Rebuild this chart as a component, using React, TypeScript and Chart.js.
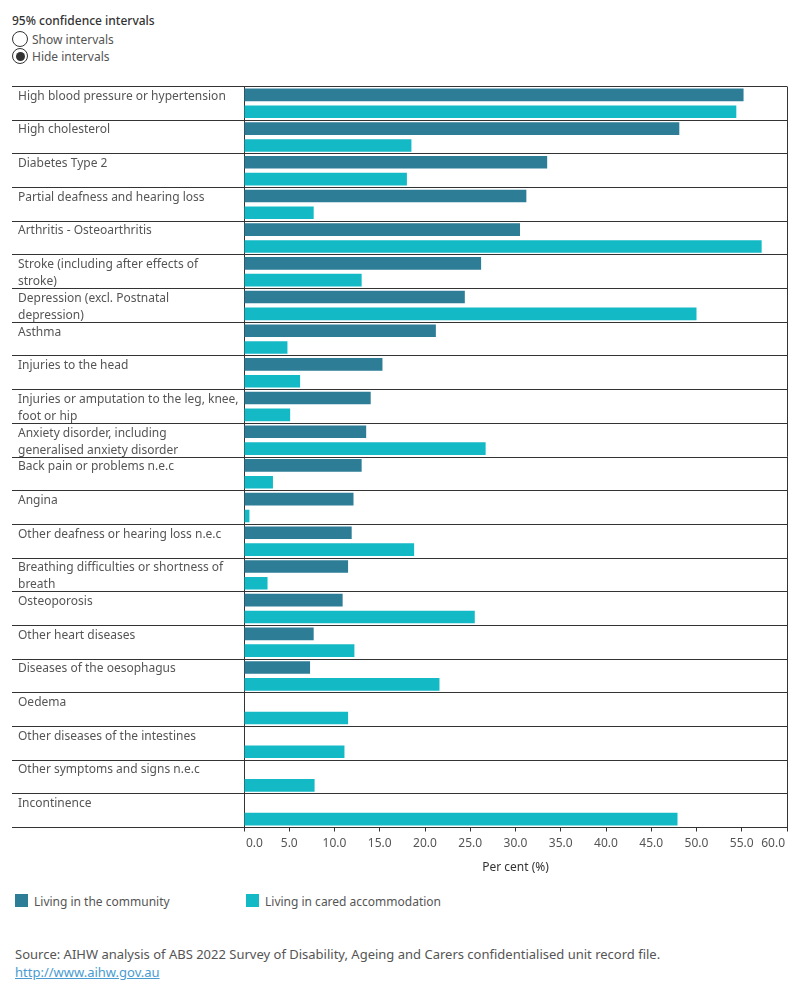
import React, { useEffect, useRef } from 'react';
import { Chart, registerables } from 'chart.js';

Chart.register(...registerables);

const FONT = '"Noto Sans", "Open Sans", sans-serif';

const categoryLabels: string[][] = [
  ['High blood pressure or hypertension', ''],
  ['High cholesterol', ''],
  ['Diabetes Type 2', ''],
  ['Partial deafness and hearing loss', ''],
  ['Arthritis - Osteoarthritis', ''],
  ['Stroke (including after effects of', 'stroke)'],
  ['Depression (excl. Postnatal', 'depression)'],
  ['Asthma', ''],
  ['Injuries to the head', ''],
  ['Injuries or amputation to the leg, knee,', 'foot or hip'],
  ['Anxiety disorder, including', 'generalised anxiety disorder'],
  ['Back pain or problems n.e.c', ''],
  ['Angina', ''],
  ['Other deafness or hearing loss n.e.c', ''],
  ['Breathing difficulties or shortness of', 'breath'],
  ['Osteoporosis', ''],
  ['Other heart diseases', ''],
  ['Diseases of the oesophagus', ''],
  ['Oedema', ''],
  ['Other diseases of the intestines', ''],
  ['Other symptoms and signs n.e.c', ''],
  ['Incontinence', ''],
];

const communityValues: (number | null)[] = [
  55.2, 48.1, 33.5, 31.2, 30.5, 26.2, 24.4, 21.2, 15.3, 14.0, 13.5,
  13.0, 12.1, 11.9, 11.5, 10.9, 7.7, 7.3, null, null, null, null,
];

const caredValues: (number | null)[] = [
  54.4, 18.5, 18.0, 7.7, 57.2, 13.0, 50.0, 4.8, 6.2, 5.1, 26.7,
  3.2, 0.6, 18.8, 2.6, 25.5, 12.2, 21.6, 11.5, 11.1, 7.8, 47.9,
];

const seriesNames = ['Living in the community', 'Living in cared accommodation'];
const seriesColors = ['#2D7D97', '#14B9C6'];

const xMin = 0;
const xMax = 60;
const xStep = 5;
const xTitle = 'Per cent (%)';

const edgeLabelPlugin = {
  id: 'edgeLabels',
  beforeDraw(chart: any) {
    const s = chart.scales.x;
    if (!s) return;
    const items = s.getLabelItems();
    if (!items || !items.length) return;
    const first = items[0];
    const last = items[items.length - 1];
    if (!first._adj) {
      first.options.textAlign = 'left';
      first.options.translation[0] += 2;
      first._adj = true;
    }
    if (!last._adj) {
      last.options.textAlign = 'right';
      last.options.translation[0] -= 2;
      last._adj = true;
    }
  },
};

function ChartCanvas() {
  const ref = useRef<HTMLCanvasElement | null>(null);
  useEffect(() => {
    if (!ref.current) return;
    const chart = new Chart(ref.current, {
      type: 'bar',
      data: {
        labels: categoryLabels as any,
        datasets: [
          {
            label: seriesNames[0],
            data: communityValues,
            backgroundColor: seriesColors[0],
            borderWidth: 0,
            categoryPercentage: 1.0,
            barPercentage: 0.75,
          },
          {
            label: seriesNames[1],
            data: caredValues,
            backgroundColor: seriesColors[1],
            borderWidth: 0,
            categoryPercentage: 1.0,
            barPercentage: 0.75,
          },
        ],
      },
      options: {
        indexAxis: 'y',
        animation: false,
        responsive: true,
        maintainAspectRatio: false,
        layout: { padding: { top: 6.5, left: 10, right: 5, bottom: 0 } },
        plugins: {
          legend: { display: false },
          tooltip: { enabled: false },
        },
        scales: {
          x: {
            type: 'linear',
            min: xMin,
            max: xMax,
            ticks: {
              stepSize: xStep,
              color: '#555',
              font: { family: FONT, size: 12 },
              padding: 5,
              maxRotation: 0,
              autoSkip: false,
              callback: (v: any) => Number(v).toFixed(1),
            },
            grid: {
              color: (ctx: any) =>
                ctx.tick && ctx.tick.value === xMax ? '#333' : 'rgba(0,0,0,0)',
              tickColor: '#333',
              tickLength: 4,
              lineWidth: 1,
            },
            border: { display: true, color: '#333' },
            title: {
              display: true,
              text: xTitle,
              color: '#333',
              font: { family: FONT, size: 12 },
              padding: { top: 0, bottom: 5 },
            },
            afterFit: (scale: any) => {
              scale.height = 52.5;
              scale.paddingLeft = 0;
              scale.paddingRight = 0;
            },
          },
          y: {
            type: 'category',
            ticks: {
              autoSkip: false,
              crossAlign: 'far',
              color: '#555',
              padding: 0,
              labelOffset: 1.5,
              font: { family: FONT, size: 12, lineHeight: 1.42 },
            },
            grid: {
              offset: true,
              color: '#333',
              lineWidth: 1,
              tickLength: 232,
              drawTicks: true,
            },
            border: { display: true, color: '#333' },
            afterFit: (scale: any) => {
              scale.width = 226;
              scale.paddingTop = 0;
              scale.paddingBottom = 0;
            },
          },
        },
      } as any,
      plugins: [edgeLabelPlugin],
    });
    return () => chart.destroy();
  }, []);
  return <canvas ref={ref} />;
}

const textBase: React.CSSProperties = {
  position: 'absolute',
  fontFamily: FONT,
  fontSize: 12,
  lineHeight: '16px',
  whiteSpace: 'nowrap',
  color: '#555',
};

export default function App() {
  return (
    <div style={{ position: 'relative', width: 784, height: 984, fontFamily: FONT }}>
      <div style={{ ...textBase, left: 4, top: 5, color: '#333', fontWeight: 500 }}>
        95% confidence intervals
      </div>
      <div
        style={{
          position: 'absolute', left: 4, top: 23, width: 14, height: 14,
          borderRadius: '50%', border: '1px solid #333', background: '#fff',
        }}
      />
      <div style={{ ...textBase, left: 24, top: 24 }}>Show intervals</div>
      <div
        style={{
          position: 'absolute', left: 4, top: 40, width: 14, height: 14,
          borderRadius: '50%', border: '1px solid #333', background: '#fff',
        }}
      >
        <div
          style={{
            position: 'absolute', left: 2.5, top: 2.5, width: 9, height: 9,
            borderRadius: '50%', background: '#333',
          }}
        />
      </div>
      <div style={{ ...textBase, left: 24, top: 41 }}>Hide intervals</div>

      <div style={{ position: 'absolute', left: 0, top: 72, width: 784, height: 800 }}>
        <ChartCanvas />
      </div>

      <div style={{ position: 'absolute', left: 7, top: 886, width: 13, height: 13, background: seriesColors[0] }} />
      <div style={{ ...textBase, left: 26, top: 886 }}>{seriesNames[0]}</div>
      <div style={{ position: 'absolute', left: 238, top: 886, width: 13, height: 13, background: seriesColors[1] }} />
      <div style={{ ...textBase, left: 257, top: 886 }}>{seriesNames[1]}</div>

      <div style={{ ...textBase, left: 7, top: 938, fontSize: 13 }}>
        Source: AIHW analysis of ABS 2022 Survey of Disability, Ageing and Carers confidentialised unit record file.
      </div>
      <a
        href="http://www.aihw.gov.au"
        style={{ ...textBase, left: 7, top: 956, fontSize: 13, color: '#4A9BD0', textDecoration: 'underline' }}
      >
        http://www.aihw.gov.au
      </a>
    </div>
  );
}
